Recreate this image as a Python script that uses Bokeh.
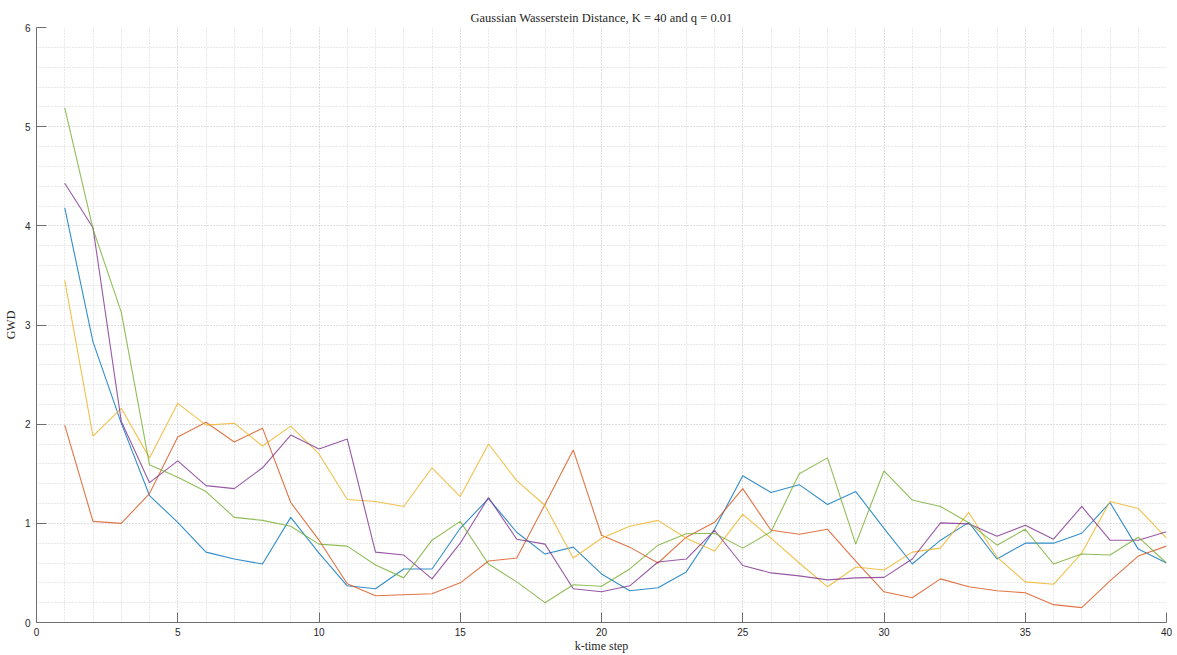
from bokeh.plotting import figure
from bokeh.models import Range1d, SingleIntervalTicker, Title
from bokeh.embed import file_html
from bokeh.resources import INLINE

# time steps
k_steps = list(range(1, 41))

# GWD per run
run_1 = [4.18, 2.83, 2.01, 1.28, 1.01, 0.71, 0.64, 0.59, 1.06, 0.70,
         0.37, 0.34, 0.54, 0.54, 0.95, 1.25, 0.91, 0.69, 0.76, 0.49,
         0.32, 0.35, 0.51, 0.94, 1.48, 1.31, 1.39, 1.19, 1.32, 0.95,
         0.59, 0.83, 1.01, 0.64, 0.80, 0.80, 0.90, 1.21, 0.74, 0.60]
run_2 = [1.99, 1.02, 1.00, 1.30, 1.87, 2.02, 1.82, 1.96, 1.21, 0.83,
         0.39, 0.27, 0.28, 0.29, 0.40, 0.62, 0.65, 1.19, 1.74, 0.88,
         0.76, 0.60, 0.86, 1.01, 1.35, 0.93, 0.89, 0.94, 0.62, 0.31,
         0.25, 0.44, 0.36, 0.32, 0.30, 0.18, 0.15, 0.42, 0.67, 0.77]
run_3 = [3.45, 1.88, 2.16, 1.66, 2.21, 1.99, 2.01, 1.78, 1.98, 1.70,
         1.24, 1.22, 1.17, 1.56, 1.27, 1.80, 1.43, 1.18, 0.65, 0.85,
         0.97, 1.03, 0.85, 0.72, 1.09, 0.85, 0.60, 0.36, 0.56, 0.53,
         0.71, 0.75, 1.11, 0.66, 0.41, 0.385, 0.70, 1.22, 1.15, 0.85]
run_4 = [4.43, 3.98, 2.03, 1.41, 1.63, 1.38, 1.35, 1.56, 1.89, 1.75,
         1.85, 0.71, 0.68, 0.44, 0.80, 1.26, 0.84, 0.79, 0.34, 0.31,
         0.37, 0.61, 0.64, 0.93, 0.575, 0.50, 0.47, 0.43, 0.45, 0.455,
         0.64, 1.005, 0.995, 0.87, 0.98, 0.84, 1.17, 0.83, 0.83, 0.915]
run_5 = [5.19, 3.97, 3.13, 1.59, 1.465, 1.32, 1.06, 1.03, 0.97, 0.79,
         0.77, 0.58, 0.45, 0.83, 1.02, 0.59, 0.41, 0.20, 0.38, 0.365,
         0.54, 0.78, 0.895, 0.90, 0.75, 0.915, 1.50, 1.66, 0.79, 1.53,
         1.235, 1.17, 1.005, 0.78, 0.94, 0.59, 0.69, 0.68, 0.86, 0.60]

runs = [run_1, run_2, run_3, run_4, run_5]
colors = ["#0072BD", "#D95319", "#EDB120", "#7E2F8E", "#77AC30"]

p = figure(width=1177, height=655, output_backend="svg", toolbar_location=None,
           x_range=Range1d(0, 40), y_range=Range1d(0, 6),
           min_border_left=36, min_border_right=11,
           min_border_top=27, min_border_bottom=30)
p.title = None
p.add_layout(Title(text="Gaussian Wasserstein Distance, K = 40 and q = 0.01",
                   align="center", text_font="Liberation Serif",
                   text_font_size="12.5px", text_font_style="normal",
                   text_color="#262626", standoff=5), "above")
p.outline_line_color = None
p.background_fill_color = "white"
p.border_fill_color = "white"

for ys, c in zip(runs, colors):
    p.line(k_steps, ys, line_color=c, line_width=1.1, line_alpha=0.8)

p.xaxis.ticker = SingleIntervalTicker(interval=5, num_minor_ticks=5)
p.yaxis.ticker = SingleIntervalTicker(interval=1, num_minor_ticks=5)

for ax in (p.xaxis, p.yaxis):
    ax.axis_line_color = "#6e6e6e"
    ax.axis_line_width = 1
    ax.major_tick_line_color = "#6e6e6e"
    ax.major_tick_in = 10
    ax.major_tick_out = 0
    ax.minor_tick_in = 0
    ax.minor_tick_out = 0
    ax.major_label_text_font = "Liberation Sans"
    ax.major_label_text_font_size = "10px"
    ax.major_label_text_color = "#262626"
    ax.axis_label_text_font = "Liberation Serif"
    ax.axis_label_text_font_size = "12px"
    ax.axis_label_text_font_style = "normal"
    ax.axis_label_text_color = "#262626"

p.xaxis.axis_label = "k-time step"
p.yaxis.axis_label = "GWD"
p.xaxis.major_label_standoff = 5
p.xaxis.axis_label_standoff = 0
p.yaxis.major_label_standoff = 6
p.yaxis.axis_label_standoff = 4

for g in (p.xgrid, p.ygrid):
    g.grid_line_color = "#d2d2d2"
    g.grid_line_dash = "1 2"
    g.grid_line_width = 1
    g.minor_grid_line_color = "#d2d2d2"
    g.minor_grid_line_dash = "1 2"
    g.minor_grid_line_width = 1

open("out.html", "w").write(file_html(p, INLINE))
